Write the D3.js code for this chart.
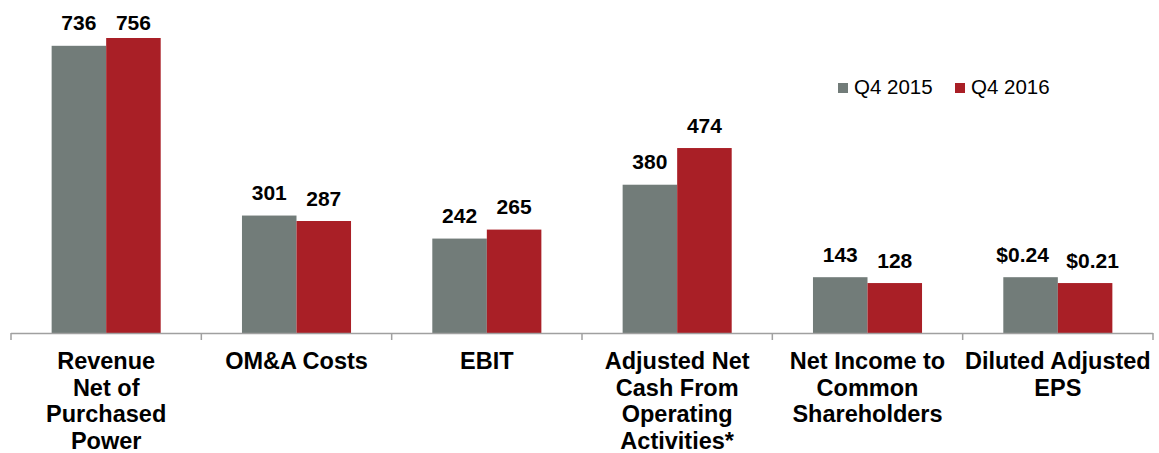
<!DOCTYPE html>
<html lang="en">
<head>
    <meta charset="UTF-8">
    <title>Q4 2016 vs Q4 2015</title>
    <script src="https://d3js.org/d3.v7.min.js"></script>
</head>
<style>
    body{
        margin: 0;
        background-color: #fff;
    }
    text{
        font-family: "Liberation Sans", Arial, sans-serif;
        fill: #000;
    }
</style>
<body>
    <script>
    // categories (one entry per label line)
    const categories = [
        ['Revenue', 'Net of', 'Purchased', 'Power'],
        ['OM&A Costs'],
        ['EBIT'],
        ['Adjusted Net', 'Cash From', 'Operating', 'Activities*'],
        ['Net Income to', 'Common', 'Shareholders'],
        ['Diluted Adjusted', 'EPS']
    ];
    const seriesNames = ['Q4 2015', 'Q4 2016'];

    // bar heights as drawn (EPS bars sit at the same height as net income in the source)
    const q4_2015 = [736, 301, 242, 380, 143, 143];
    const q4_2016 = [756, 287, 265, 474, 128, 128];

    // value labels shown above the bars
    const labels2015 = ['736', '301', '242', '380', '143', '$0.24'];
    const labels2016 = ['756', '287', '265', '474', '128', '$0.21'];

    const colors = ['#727c79', '#a91f26'];

    const width = 1159;
    const height = 453;
    const axisY = 333;

    const svg = d3.select('body')
        .append('svg')
        .attr('width', width)
        .attr('height', height);

    const keys = categories.map((c, i) => i);

    const x0 = d3.scaleBand()
        .domain(keys)
        .range([11, 1153])
        .paddingInner(0.427)
        .paddingOuter(0.2135);

    const x1 = d3.scaleBand()
        .domain([0, 1])
        .range([0, x0.bandwidth()]);

    const y = d3.scaleLinear()
        .domain([0, 800])
        .range([axisY, axisY - 800 * 295 / 756]);

    const data = keys.map(i => ({
        i: i,
        vals: [
            { s: 0, v: q4_2015[i], label: labels2015[i], wide: labels2015[i].length > 3 },
            { s: 1, v: q4_2016[i], label: labels2016[i], wide: labels2016[i].length > 3 }
        ]
    }));

    const groups = svg.selectAll('.group')
        .data(data)
        .enter()
        .append('g')
        .attr('class', 'group')
        .attr('transform', d => `translate(${x0(d.i)}, 0)`);

    groups.selectAll('rect')
        .data(d => d.vals)
        .enter()
        .append('rect')
        .attr('x', d => x1(d.s))
        .attr('y', d => y(d.v))
        .attr('width', x1.bandwidth())
        .attr('height', d => axisY - y(d.v))
        .attr('fill', d => colors[d.s]);

    // wide labels ($ values) get pushed apart a little so they don't touch
    groups.selectAll('.val')
        .data(d => d.vals)
        .enter()
        .append('text')
        .attr('class', 'val')
        .attr('text-anchor', 'middle')
        .attr('x', d => x1(d.s) + x1.bandwidth() / 2 + (d.wide ? (d.s ? 7.5 : -8) : 0))
        .attr('y', d => Math.max(y(d.v) - 15.5, 30))
        .style('font-size', '21px')
        .style('font-weight', 'bold')
        .text(d => d.label);

    // x axis: line with tick marks between categories
    const tickXs = keys.map(i => x0(i) - x0.step() * x0.paddingInner() / 2);
    tickXs.push(1153);
    svg.append('line')
        .attr('x1', 11)
        .attr('x2', 1153)
        .attr('y1', axisY + 0.5)
        .attr('y2', axisY + 0.5)
        .attr('stroke', '#a0a0a0')
        .attr('stroke-width', 1.5);
    svg.selectAll('.tick')
        .data(tickXs)
        .enter()
        .append('line')
        .attr('class', 'tick')
        .attr('x1', d => d)
        .attr('x2', d => d)
        .attr('y1', axisY)
        .attr('y2', axisY + 7)
        .attr('stroke', '#a0a0a0')
        .attr('stroke-width', 1.5);

    // category labels
    const catLabels = svg.selectAll('.cat')
        .data(categories)
        .enter()
        .append('text')
        .attr('class', 'cat')
        .attr('text-anchor', 'middle')
        .style('font-size', '23.5px')
        .style('font-weight', 'bold');
    catLabels.selectAll('tspan')
        .data((d, i) => d.map(line => ({ line, i })))
        .enter()
        .append('tspan')
        .attr('x', d => x0(d.i) + x0.bandwidth() / 2)
        .attr('y', (d, j) => 369 + j * 26.5)
        .text(d => d.line);

    // legend
    const legendX = [838, 955];
    const legend = svg.selectAll('.legend')
        .data(seriesNames)
        .enter()
        .append('g')
        .attr('class', 'legend')
        .attr('transform', (d, i) => `translate(${legendX[i]}, 83)`);
    legend.append('rect')
        .attr('width', 10)
        .attr('height', 10)
        .attr('fill', (d, i) => colors[i]);
    legend.append('text')
        .attr('x', 16)
        .attr('y', 11)
        .style('font-size', '20.5px')
        .text(d => d);
    </script>
</body>
</html>
